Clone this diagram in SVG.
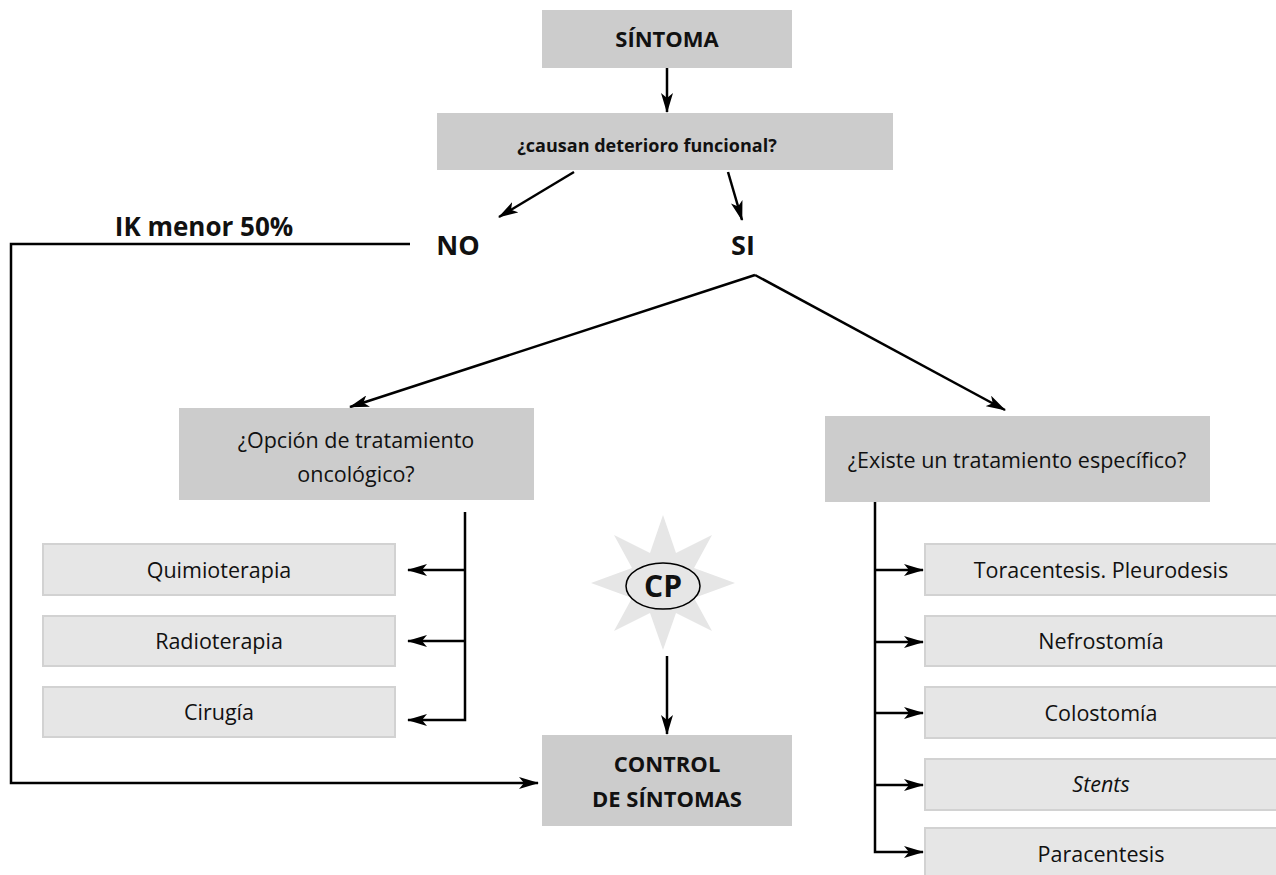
<svg xmlns="http://www.w3.org/2000/svg" width="1276" height="875" viewBox="0 0 1276 875">
<defs>
<marker id="ah" markerWidth="20" markerHeight="12" refX="19" refY="6" orient="auto" markerUnits="userSpaceOnUse">
<path d="M0,0 L20,6 L0,12 L5,6 Z" fill="#000"/>
</marker>
<style>
.dark{fill:#cccccc}
.light{fill:#e6e6e6;stroke:#d2d2d2;stroke-width:2}
.t{font-family:"Open Sans","Noto Sans","Liberation Sans",sans-serif;font-size:21.5px;fill:#111;text-anchor:middle}
.b{font-weight:bold}
.c{fill:none;stroke:#000;stroke-width:2.5}
</style>
</defs>
<rect width="1276" height="875" fill="#fff"/>

<g id="connectors">
<line class="c" x1="667" y1="68" x2="667" y2="112" marker-end="url(#ah)"/>
<line class="c" x1="574" y1="172" x2="499" y2="217" marker-end="url(#ah)"/>
<line class="c" x1="728" y1="172" x2="742" y2="220" marker-end="url(#ah)"/>
<polyline class="c" points="410,244 11,244 11,783 538,783" marker-end="url(#ah)"/>
<line class="c" x1="755" y1="275" x2="350" y2="407" marker-end="url(#ah)"/>
<line class="c" x1="755" y1="275" x2="1005" y2="410" marker-end="url(#ah)"/>
<polyline class="c" points="465,512 465,720 408,720" marker-end="url(#ah)"/>
<line class="c" x1="465" y1="570" x2="408" y2="570" marker-end="url(#ah)"/>
<line class="c" x1="465" y1="641" x2="408" y2="641" marker-end="url(#ah)"/>
<line class="c" x1="667" y1="656" x2="667" y2="734" marker-end="url(#ah)"/>
<polyline class="c" points="875,502 875,852 923,852" marker-end="url(#ah)"/>
<line class="c" x1="875" y1="570" x2="923" y2="570" marker-end="url(#ah)"/>
<line class="c" x1="875" y1="642" x2="923" y2="642" marker-end="url(#ah)"/>
<line class="c" x1="875" y1="713" x2="923" y2="713" marker-end="url(#ah)"/>
<line class="c" x1="875" y1="785" x2="923" y2="785" marker-end="url(#ah)"/>
</g>

<g id="sintoma">
<rect class="dark" x="542" y="10" width="250" height="58"/>
<text class="t b" x="667" y="47" style="font-size:22px">SÍNTOMA</text>
</g>
<g id="deterioro">
<rect class="dark" x="437" y="113" width="456" height="57"/>
<text class="t b" x="647" y="152" style="font-size:18px">¿causan deterioro funcional?</text>
</g>
<g id="no"><text class="t b" x="458" y="255" style="font-size:27px">NO</text></g>
<g id="si"><text class="t b" x="743" y="255" style="font-size:27px">SI</text></g>
<g id="ik"><text class="t b" x="204" y="236" style="font-size:26px">IK menor 50%</text></g>

<g id="oncologico">
<rect class="dark" x="179" y="408" width="355" height="92"/>
<text class="t" x="356" y="448">¿Opción de tratamiento</text>
<text class="t" x="356" y="482">oncológico?</text>
</g>
<g id="especifico">
<rect class="dark" x="825" y="416" width="385" height="86"/>
<text class="t" x="1017" y="468">¿Existe un tratamiento específico?</text>
</g>

<g id="quimio"><rect class="light" x="43" y="544" width="352" height="51"/><text class="t" x="219" y="578">Quimioterapia</text></g>
<g id="radio"><rect class="light" x="43" y="616" width="352" height="50"/><text class="t" x="219" y="649">Radioterapia</text></g>
<g id="cirugia"><rect class="light" x="43" y="687" width="352" height="50"/><text class="t" x="219" y="720">Cirugía</text></g>

<g id="cp">
<polygon fill="#e6e6e6" points="663,515 676,553 712,535 694,568 735,583 694,598 712,631 676,613 663,650 650,613 614,631 632,598 591,583 632,568 614,535 650,553"/>
<ellipse cx="663" cy="586" rx="37" ry="23" fill="#e6e6e6" stroke="#000" stroke-width="1.5"/>
<text class="t b" x="663" y="597" style="font-size:30px">CP</text>
</g>

<g id="control">
<rect class="dark" x="542" y="735" width="250" height="91"/>
<text class="t b" x="667" y="772" style="font-size:22px">CONTROL</text>
<text class="t b" x="667" y="807" style="font-size:22px">DE SÍNTOMAS</text>
</g>

<g id="toracentesis"><rect class="light" x="925" y="544" width="360" height="51"/><text class="t" x="1101" y="578">Toracentesis. Pleurodesis</text></g>
<g id="nefrostomia"><rect class="light" x="925" y="616" width="360" height="50"/><text class="t" x="1101" y="649">Nefrostomía</text></g>
<g id="colostomia"><rect class="light" x="925" y="687" width="360" height="51"/><text class="t" x="1101" y="721">Colostomía</text></g>
<g id="stents"><rect class="light" x="925" y="759" width="360" height="51"/><text class="t" x="1101" y="792" font-style="italic">Stents</text></g>
<g id="paracentesis"><rect class="light" x="925" y="828" width="360" height="60"/><text class="t" x="1101" y="862">Paracentesis</text></g>
</svg>
